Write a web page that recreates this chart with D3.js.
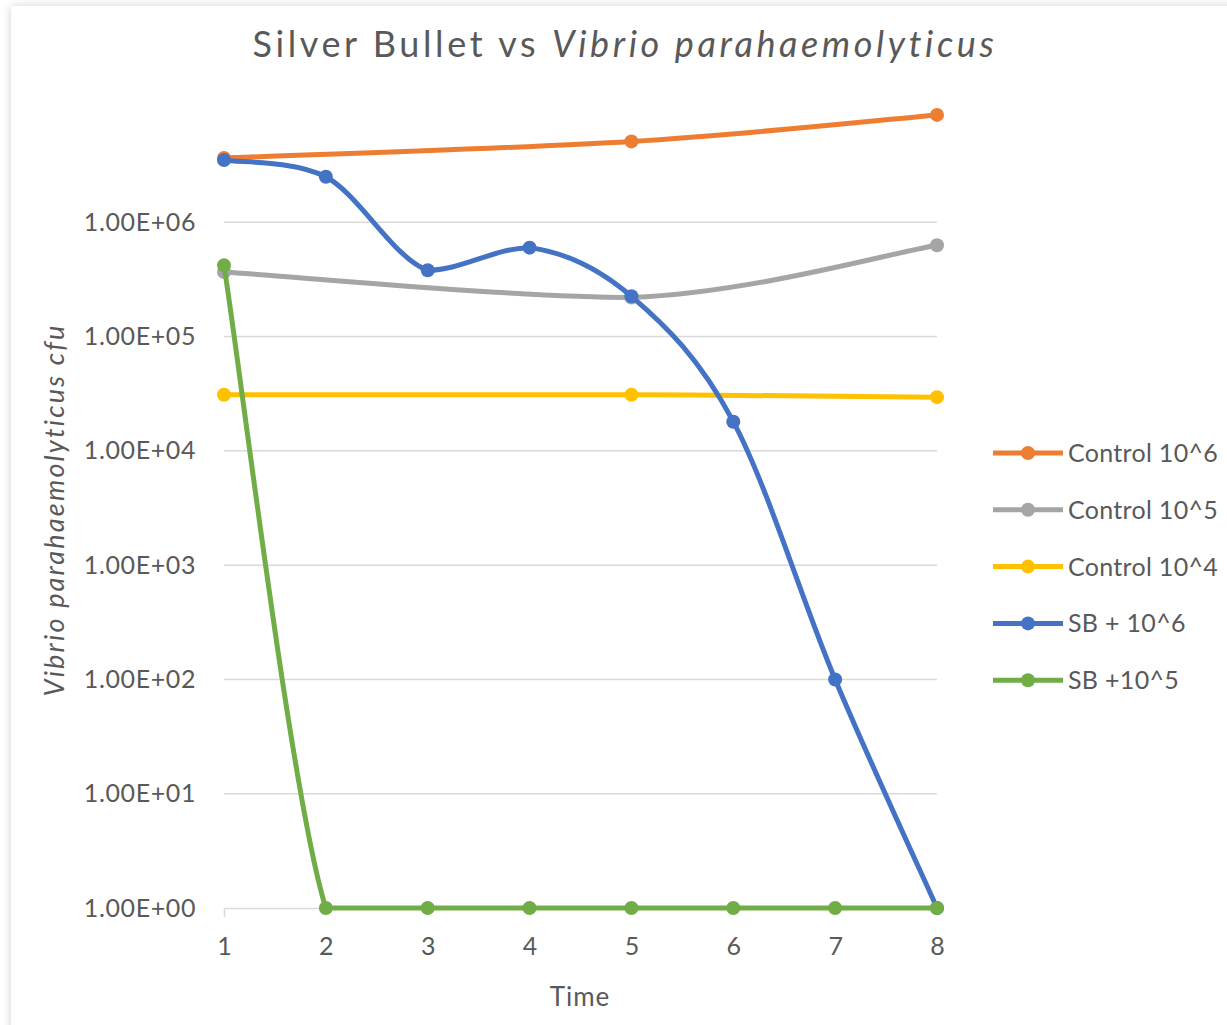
<!DOCTYPE html>
<html lang="en">
<head>
<meta charset="UTF-8" />
<title>Silver Bullet vs Vibrio parahaemolyticus</title>
<style>
html, body { margin: 0; padding: 0; background: #ffffff; overflow: hidden; }
.frame {
  position: absolute;
  left: 11px;
  top: 6px;
  width: 1240px;
  height: 1060px;
  background: #ffffff;
  box-shadow: 0 0 9px rgba(0, 0, 0, 0.18);
}
svg { position: absolute; left: 0; top: 0; }
text { font-family: Lato, "Open Sans", sans-serif; fill: #595959; }
</style>
</head>
<body>
<div class="frame"></div>
<svg id="chart" width="1227" height="1025"></svg>
<script src="https://cdn.jsdelivr.net/npm/d3@7/dist/d3.min.js"></script>
<script>
// time points (categories on the x axis)
const times = [1, 2, 3, 4, 5, 6, 7, 8];

// cfu values per time point, null = not measured
const control6 = [3.65e6, null, null, null, 5.1e6, null, null, 8.7e6];
const control5 = [3.67e5, null, null, null, 2.2e5, null, null, 6.3e5];
const control4 = [3.1e4, null, null, null, 3.1e4, null, null, 2.95e4];
const sb6 = [3.5e6, 2.5e6, 3.8e5, 6.0e5, 2.25e5, 1.8e4, 100, 1];
const sb5 = [4.2e5, 1, 1, 1, 1, 1, 1, 1];

const seriesNames = ['Control 10^6', 'Control 10^5', 'Control 10^4', 'SB + 10^6', 'SB +10^5'];
const seriesValues = [control6, control5, control4, sb6, sb5];
const colors = ['#ED7D31', '#A5A5A5', '#FFC000', '#4472C4', '#70AD47'];

const yTicks = [1, 10, 100, 1e3, 1e4, 1e5, 1e6];
const yTickLabels = ['1.00E+00', '1.00E+01', '1.00E+02', '1.00E+03', '1.00E+04', '1.00E+05', '1.00E+06'];

// smooth curve like the spreadsheet one: catmull-rom tangents,
// control points kept inside the y range of their segment (no dips below the axis)
function curveSmooth(context) {
  let pts = [];
  return {
    areaStart() {}, areaEnd() {},
    lineStart() { pts = []; },
    point(px, py) { pts.push([+px, +py]); },
    lineEnd() {
      if (!pts.length) return;
      context.moveTo(pts[0][0], pts[0][1]);
      for (let i = 0; i < pts.length - 1; i++) {
        const p0 = pts[i - 1] || pts[i], p1 = pts[i], p2 = pts[i + 1], p3 = pts[i + 2] || pts[i + 1];
        const lo = Math.min(p1[1], p2[1]), hi = Math.max(p1[1], p2[1]);
        const c1 = [p1[0] + (p2[0] - p0[0]) / 6, Math.max(lo, Math.min(hi, p1[1] + (p2[1] - p0[1]) / 6))];
        const c2 = [p2[0] - (p3[0] - p1[0]) / 6, Math.max(lo, Math.min(hi, p2[1] - (p3[1] - p1[1]) / 6))];
        context.bezierCurveTo(c1[0], c1[1], c2[0], c2[1], p2[0], p2[1]);
      }
    }
  };
}

const svg = d3.select('#chart');
const plot = { left: 224, right: 937, top: 108, bottom: 908 };

const x = d3.scalePoint().domain(times).range([plot.left, plot.right]);
const y = d3.scaleLog().domain([1, 1e7]).range([plot.bottom, plot.top]);

// title
const title = svg.append('text')
  .attr('x', 625).attr('y', 57)
  .attr('text-anchor', 'middle')
  .style('font-size', '36px')
  .style('letter-spacing', '3.6px');
title.append('tspan').text('Silver Bullet vs ');
title.append('tspan').style('font-style', 'italic').text('Vibrio parahaemolyticus');

// gridlines
svg.append('g')
  .selectAll('line')
  .data(yTicks.slice(1))
  .join('line')
  .attr('x1', plot.left).attr('x2', plot.right)
  .attr('y1', d => y(d)).attr('y2', d => y(d))
  .attr('stroke', '#d9d9d9').attr('stroke-width', 1.5);

// y axis labels
const yAxis = svg.append('g')
  .attr('transform', `translate(${plot.left},0)`)
  .call(d3.axisLeft(y).tickValues(yTicks).tickFormat((d, i) => yTickLabels[i]).tickSize(0).tickPadding(28));
yAxis.select('.domain').remove();
yAxis.selectAll('text')
  .style('font-size', '25px').style('letter-spacing', '0.6px')
  .style('font-family', 'Lato, sans-serif').attr('fill', '#595959');

// x axis
const xAxis = svg.append('g')
  .attr('transform', `translate(0,${plot.bottom})`)
  .call(d3.axisBottom(x).tickSizeOuter(0).tickSizeInner(9).tickPadding(20));
xAxis.select('.domain').attr('stroke', '#d9d9d9').attr('stroke-width', 1.5);
xAxis.selectAll('.tick line').attr('stroke', '#d9d9d9').attr('stroke-width', 1.5)
  .filter((d, i) => i > 0).remove();
xAxis.selectAll('text')
  .style('font-size', '25px')
  .style('font-family', 'Lato, sans-serif').attr('fill', '#595959');

// axis titles
svg.append('text')
  .attr('transform', `translate(64,510) rotate(-90)`)
  .attr('text-anchor', 'middle')
  .style('font-size', '27px')
  .style('letter-spacing', '2.2px')
  .style('font-style', 'italic')
  .text('Vibrio parahaemolyticus cfu');

svg.append('text')
  .attr('x', 580).attr('y', 1006)
  .attr('text-anchor', 'middle')
  .style('font-size', '26px')
  .style('letter-spacing', '1px')
  .text('Time');

// lines + markers
const line = d3.line()
  .x(d => x(d.t))
  .y(d => y(d.v))
  .curve(curveSmooth);

seriesValues.forEach((vals, i) => {
  const pts = times.map((t, j) => ({ t: t, v: vals[j] })).filter(d => d.v != null);
  const g = svg.append('g');
  g.append('path')
    .datum(pts)
    .attr('d', line)
    .attr('fill', 'none')
    .attr('stroke', colors[i])
    .attr('stroke-width', 5)
    .attr('stroke-linejoin', 'round')
    .attr('stroke-linecap', 'round');
  g.selectAll('circle')
    .data(pts)
    .join('circle')
    .attr('cx', d => x(d.t))
    .attr('cy', d => y(d.v))
    .attr('r', 7)
    .attr('fill', colors[i]);
});

// legend
const legend = svg.append('g').attr('transform', 'translate(993,453)');
seriesNames.forEach((name, i) => {
  const row = legend.append('g').attr('transform', `translate(0,${i * 56.8})`);
  row.append('line')
    .attr('x1', 0).attr('x2', 70)
    .attr('stroke', colors[i]).attr('stroke-width', 5);
  row.append('circle').attr('cx', 35).attr('r', 7).attr('fill', colors[i]);
  row.append('text')
    .attr('x', 75).attr('y', 9)
    .style('font-size', '25px')
    .style('letter-spacing', '0.3px')
    .text(name);
});
</script>
</body>
</html>
